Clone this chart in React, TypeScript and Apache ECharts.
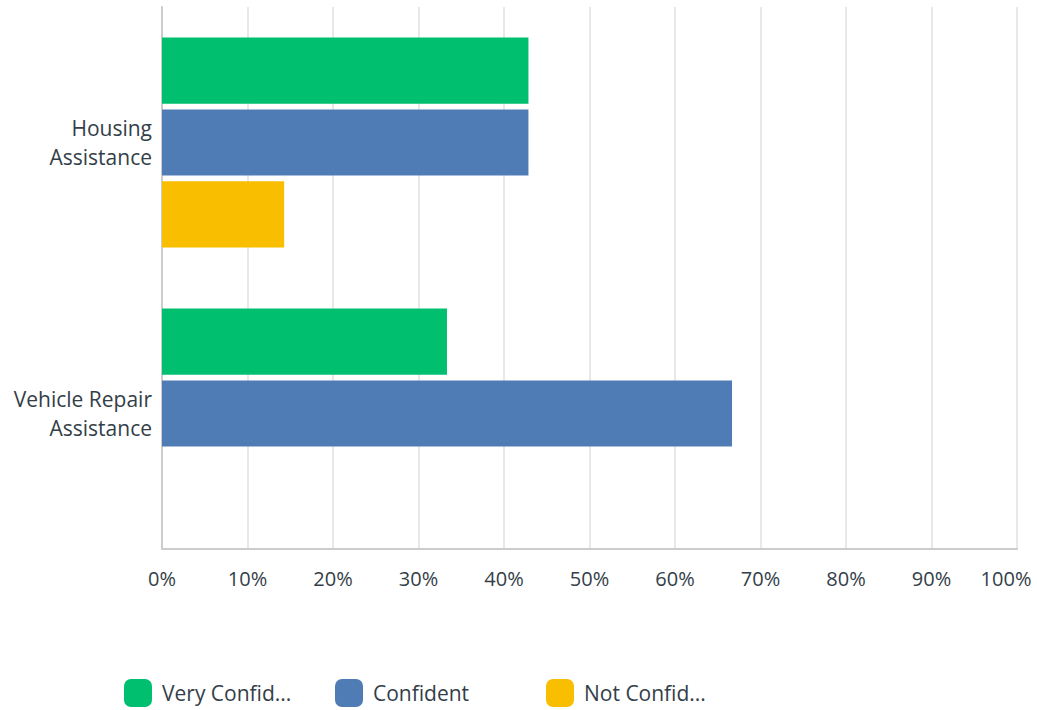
import React, { useEffect, useRef } from "react";
import * as echarts from "echarts";

const categories = ["Housing\nAssistance", "Vehicle Repair\nAssistance"];
const seriesNames = ["Very Confident", "Confident", "Not Confident"];
const legendLabels = ["Very Confid...", "Confident", "Not Confid..."];
const veryConfident = [42.86, 33.33];
const confident = [42.86, 66.67];
const notConfident = [14.29, 0];
const tickValues = [0, 10, 20, 30, 40, 50, 60, 70, 80, 90, 100];

const colors = ["#00BF6F", "#507CB6", "#F9BE00"];
const FONT = "'Open Sans', 'Noto Sans', sans-serif";
const TEXT = "#333E48";

export default function App() {
  const ref = useRef<HTMLDivElement>(null);
  useEffect(() => {
    document.body.style.margin = "0";
    document.body.style.overflow = "hidden";
    const chart = echarts.init(ref.current!, undefined, { renderer: "svg" });
    const values = [veryConfident, confident, notConfident];
    const legendLefts = [119, 330, 541];
    const maxTick = tickValues[tickValues.length - 1];
    chart.setOption({
      animation: false,
      textStyle: { fontFamily: FONT },
      grid: {
        left: 162,
        right: 20,
        top: 7,
        bottom: 161,
        containLabel: false,
        outerBoundsMode: "none",
      },
      xAxis: {
        type: "value",
        min: tickValues[0],
        max: maxTick,
        interval: 10,
        axisLabel: {
          formatter: (v: number) => (v === maxTick ? `{last|${v}%}` : `${v}%`),
          color: TEXT,
          fontSize: 20,
          margin: 19,
          fontFamily: FONT,
          rich: {
            last: { color: TEXT, fontSize: 20, fontFamily: FONT, padding: [0, 22, 0, 0] },
          },
        },
        axisLine: { show: true, lineStyle: { color: "#CCCCCC", width: 2 } },
        axisTick: { show: false },
        splitLine: { show: true, lineStyle: { color: "#E8E8E8", width: 2 } },
      },
      yAxis: {
        type: "category",
        data: categories,
        inverse: true,
        axisLabel: {
          formatter: (v: string) => v.split("\n").map((s) => `{c|${s}}`).join("\n") + "\n{s|}",
          color: TEXT,
          fontSize: 21,
          margin: 10,
          align: "right",
          fontFamily: FONT,
          rich: {
            c: { color: TEXT, fontSize: 21, lineHeight: 29, fontFamily: FONT, align: "right" },
            s: { lineHeight: 0, height: 0, fontSize: 1 },
          },
        },
        axisLine: { show: true, lineStyle: { color: "#CCCCCC", width: 2 } },
        axisTick: { show: false },
        splitLine: { show: false },
      },
      legend: seriesNames.map((n, i) => ({
        data: [n],
        left: legendLefts[i],
        top: 674,
        itemWidth: 28,
        itemHeight: 28,
        itemGap: 0,
        icon: "roundRect",
        formatter: () => legendLabels[i],
        textStyle: { color: TEXT, fontSize: 21, fontFamily: FONT, padding: [0, 0, 0, 5] },
        selectedMode: false,
      })),
      series: seriesNames.map((n, i) => ({
        name: n,
        type: "bar",
        data: values[i],
        barCategoryGap: "22.6%",
        barGap: "8.5%",
        itemStyle: { color: colors[i] },
      })),
    });
    return () => chart.dispose();
  }, []);
  return <div ref={ref} style={{ width: 1037, height: 710, position: "absolute", left: 0, top: 0 }} />;
}
